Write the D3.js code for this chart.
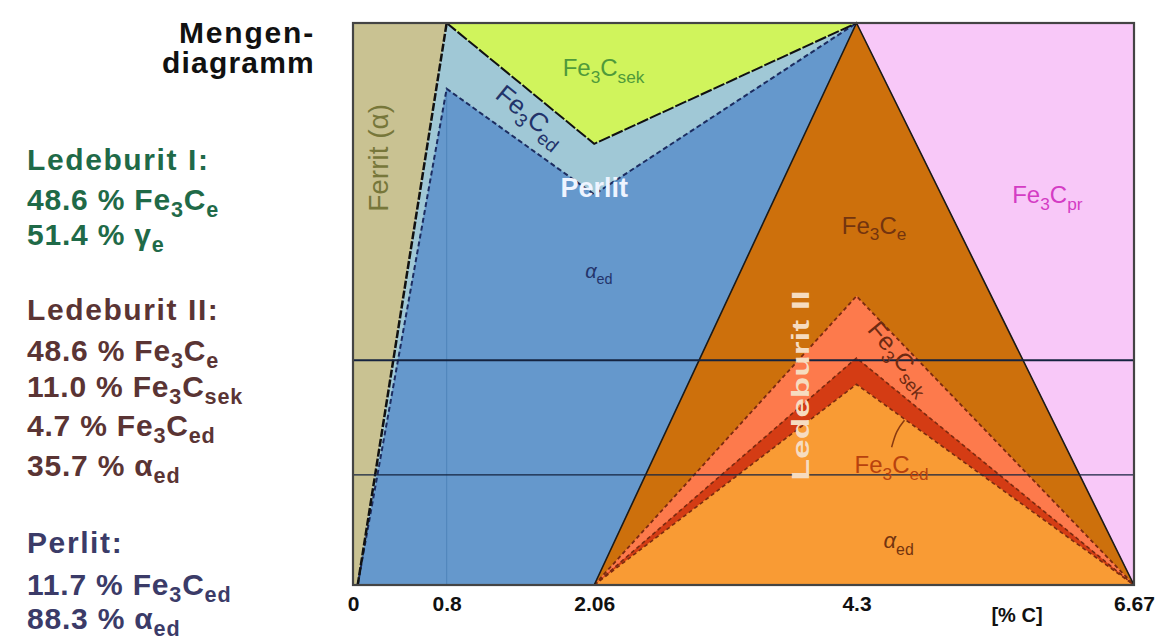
<!DOCTYPE html>
<html>
<head>
<meta charset="utf-8">
<script src="https://cdn.jsdelivr.net/npm/d3@7"></script>
<style>
  html, body { margin: 0; padding: 0; background: #ffffff; }
  svg { display: block; font-family: "Liberation Sans", Arial, sans-serif; }
</style>
</head>
<body>
<svg id="chart" width="1167" height="641"></svg>
<script>
// ---------- data (carbon content in % C, phase amount in %) ----------
const tickValues = [0, 0.8, 2.06, 4.3, 6.67];
const xDomain = [0, 6.67];
const yDomain = [0, 100];

// region outlines: [%C, amount %]
const ferritRegion   = [[0, 0], [0.04, 0], [0.8, 100], [0, 100]];
const sekRegion      = [[0.8, 100], [2.06, 78.5], [4.3, 100]];
const perlitEdRegion = [[0.04, 0], [0.8, 100], [2.06, 78.5], [4.3, 100], [2.06, 0]];
const perlitAlpha    = [[0.04, 0], [0.8, 88.3], [2.06, 69.5], [4.3, 100], [2.06, 0]];
const primRegion     = [[4.3, 100], [6.67, 100], [6.67, 0]];
const ledeburitE     = [[2.06, 0], [4.3, 100], [6.67, 0]];
const ledeburitSek   = [[2.06, 0], [4.3, 51.4], [6.67, 0]];
const ledeburitEd    = [[2.06, 0], [4.3, 40.4], [6.67, 0]];
const ledeburitAlpha = [[2.06, 0], [4.3, 35.7], [6.67, 0]];

const ferritLine = [[0.04, 0], [0.8, 100]];
const sekLine    = [[0.8, 100], [2.06, 78.5], [4.3, 100]];
const edLine     = [[0.04, 0], [0.8, 88.3], [2.06, 69.5], [4.3, 100]];
const hLines     = [40, 19.6];
const vLines     = [0.8];
const hookLine   = [[4.71, 29.3], [4.64, 27.5], [4.6, 24.5]];

const ledI  = [["48.6 % ", "Fe", "3", "C", "e"], ["51.4 % ", "γ", "", "", "e"]];
const ledII = [["48.6 % ", "Fe", "3", "C", "e"], ["11.0 % ", "Fe", "3", "C", "sek"],
               ["4.7 % ", "Fe", "3", "C", "ed"], ["35.7 % ", "α", "", "", "ed"]];
const perl  = [["11.7 % ", "Fe", "3", "C", "ed"], ["88.3 % ", "α", "", "", "ed"]];

// ---------- layout ----------
const svg = d3.select("#chart");
const L = 353, R = 1134, T = 23, B = 585;
const x = d3.scaleLinear().domain(xDomain).range([L, R]);
const y = d3.scaleLinear().domain(yDomain).range([B, T]);
const line = d3.line().x(d => x(d[0])).y(d => y(d[1]));
const poly = pts => line(pts) + "Z";

const FONT = '"Liberation Sans", Arial, sans-serif';

function poly2(pts, fill) {
  svg.append("path").attr("d", poly(pts)).attr("fill", fill).attr("stroke", fill).attr("stroke-width", 0.5);
}
poly2(primRegion, "#f8c8f8");
poly2(ferritRegion, "#c9c292");
poly2(perlitEdRegion, "#a0c8d6");
poly2(sekRegion, "#d0f45c");
poly2(perlitAlpha, "#6598cc");
poly2(ledeburitE, "#cd700c");
poly2(ledeburitSek, "#fd7a4c");
poly2(ledeburitEd, "#d43c14");
poly2(ledeburitAlpha, "#f99b34");

// vertical faint guide
svg.selectAll(".vl").data(vLines).enter().append("line")
  .attr("x1", d => x(d)).attr("x2", d => x(d)).attr("y1", y(0)).attr("y2", y(88.3))
  .attr("stroke", "#4f84bb").attr("stroke-width", 1);

// boundary lines
svg.append("path").attr("d", line(ledeburitAlpha)).attr("fill", "none")
  .attr("stroke", "#7a2a10").attr("stroke-width", 1.6).attr("stroke-dasharray", "4,3");
svg.append("path").attr("d", line(ledeburitEd)).attr("fill", "none")
  .attr("stroke", "#7a2a10").attr("stroke-width", 1.6).attr("stroke-dasharray", "4,3");
svg.append("path").attr("d", line(ledeburitSek)).attr("fill", "none")
  .attr("stroke", "#7a2a10").attr("stroke-width", 1.8).attr("stroke-dasharray", "4,3");
svg.append("path").attr("d", line(ledeburitE)).attr("fill", "none")
  .attr("stroke", "#1a1a1a").attr("stroke-width", 1.6);
svg.append("path").attr("d", line(edLine)).attr("fill", "none")
  .attr("stroke", "#1c2c60").attr("stroke-width", 2).attr("stroke-dasharray", "5,3");
svg.append("path").attr("d", line(sekLine)).attr("fill", "none")
  .attr("stroke", "#111").attr("stroke-width", 2).attr("stroke-dasharray", "12,2");
svg.append("path").attr("d", line(ferritLine)).attr("fill", "none")
  .attr("stroke", "#111").attr("stroke-width", 2.5).attr("stroke-dasharray", "8,2");

// horizontal lines
svg.selectAll(".hl").data(hLines).enter().append("line")
  .attr("x1", L).attr("x2", R).attr("y1", d => y(d)).attr("y2", d => y(d))
  .attr("stroke", "#15233f").attr("stroke-width", (d, i) => i === 0 ? 2 : 1.3);

// frame
svg.append("rect").attr("x", L).attr("y", T).attr("width", R - L).attr("height", B - T)
  .attr("fill", "none").attr("stroke", "#444").attr("stroke-width", 2.2);

// hook
svg.append("path").attr("d", d3.line().curve(d3.curveBasis).x(d => x(d[0])).y(d => y(d[1]))(hookLine))
  .attr("fill", "none").attr("stroke", "#8a3a10").attr("stroke-width", 1.5);

// ---------- text helpers ----------
function chemText(g, parts, size, opts = {}) {
  // parts: [prefix, main, sub1, main2, sub2]
  const t = g.append("text").attr("font-size", size).attr("font-family", FONT);
  if (opts.bold) t.attr("font-weight", "bold");
  if (opts.fill) t.attr("fill", opts.fill);
  if (opts.anchor) t.attr("text-anchor", opts.anchor);
  if (opts.ls) t.attr("letter-spacing", opts.ls);
  const sub = size * 0.72, sh = size * (opts.shift || 0.28);
  const [pre, m1, s1, m2, s2] = parts;
  if (pre) t.append("tspan").text(pre);
  if (m1) {
    const ts = t.append("tspan").text(m1);
    if (opts.italicMain && (m1 === "α" || m1 === "γ")) ts.attr("font-style", "italic");
  }
  let shifted = false;
  if (s1) { t.append("tspan").attr("font-size", sub).attr("dy", sh).text(s1); shifted = true; }
  if (m2) { t.append("tspan").attr("dy", shifted ? -sh : 0).text(m2); shifted = false; }
  if (s2) { t.append("tspan").attr("font-size", sub).attr("dy", shifted ? 0 : sh).text(s2); }
  return t;
}

// ---------- left text block ----------
svg.append("text").attr("x", 315).attr("y", 43).attr("text-anchor", "end")
  .attr("font-size", 30).attr("font-weight", "bold").attr("font-family", FONT)
  .attr("letter-spacing", 1.8).attr("fill", "#111").text("Mengen-");
svg.append("text").attr("x", 315).attr("y", 73).attr("text-anchor", "end")
  .attr("font-size", 30).attr("font-weight", "bold").attr("font-family", FONT)
  .attr("letter-spacing", 1.2).attr("fill", "#111").text("diagramm");

function block(title, rows, color, yTitle, yRows) {
  svg.append("text").attr("x", 27).attr("y", yTitle).attr("font-size", 30)
    .attr("font-weight", "bold").attr("font-family", FONT).attr("letter-spacing", 1.6)
    .attr("fill", color).text(title);
  rows.forEach((r, i) => {
    const g = svg.append("g").attr("transform", `translate(27,${yRows[i]})`);
    chemText(g, r, 30, { bold: true, fill: color, ls: 0.8, shift: 0.22 });
  });
}
block("Ledeburit I:", ledI, "#1f6a48", 170, [210, 245]);
block("Ledeburit II:", ledII, "#5a3434", 320, [361, 397, 436, 476]);
block("Perlit:", perl, "#3b3b68", 553, [595, 629]);

// ---------- axis ----------
const axis = d3.axisBottom(x).tickValues(tickValues).tickSize(0).tickPadding(11)
  .tickFormat(d => String(d));
const ag = svg.append("g").attr("transform", `translate(0,${B})`).call(axis);
ag.select(".domain").remove();
ag.selectAll("text").attr("font-size", 21).attr("font-weight", "bold")
  .attr("font-family", FONT).attr("fill", "#111");
svg.append("text").attr("x", 1017).attr("y", 622).attr("text-anchor", "middle")
  .attr("font-size", 20).attr("font-weight", "bold").attr("font-family", FONT)
  .attr("fill", "#111").text("[% C]");

// ---------- in-chart labels ----------
// Ferrit (α)
svg.append("text").attr("transform", `translate(${x(0.3)},${y(76)}) rotate(-90)`)
  .attr("text-anchor", "middle").attr("font-size", 28).attr("font-family", FONT)
  .attr("fill", "#77773a").text("Ferrit (α)");

// Fe3C sek top
chemText(svg.append("g").attr("transform", `translate(${x(2.14)},${y(90.6)})`),
  ["", "Fe", "3", "C", "sek"], 24, { fill: "#4f9a3a", anchor: "middle" });

// Fe3C ed (rotated along band)
chemText(svg.append("g").attr("transform", `translate(${x(1.47)},${y(82.3)}) rotate(39)`),
  ["", "Fe", "3", "C", "ed"], 26, { fill: "#22336a", anchor: "middle" });

// Perlit
svg.append("text").attr("x", x(2.06)).attr("y", y(69)).attr("text-anchor", "middle")
  .attr("font-size", 27).attr("font-weight", "bold").attr("font-family", FONT)
  .attr("fill", "#eef4ff").text("Perlit");

// alpha ed in blue
chemText(svg.append("g").attr("transform", `translate(${x(2.1)},${y(54.6)})`),
  ["", "α", "", "", "ed"], 20, { fill: "#23336a", anchor: "middle", italicMain: true });

// Fe3C e
chemText(svg.append("g").attr("transform", `translate(${x(4.45)},${y(62.5)})`),
  ["", "Fe", "3", "C", "e"], 24, { fill: "#73340f", anchor: "middle" });

// Fe3C pr
chemText(svg.append("g").attr("transform", `translate(${x(5.93)},${y(68)})`),
  ["", "Fe", "3", "C", "pr"], 24, { fill: "#d43cc4", anchor: "middle" });

// Ledeburit II (vertical)
svg.append("text").attr("transform", `translate(${x(3.95) - 7},${y(35.5)}) rotate(-90)`)
  .attr("text-anchor", "middle").attr("font-size", 24).attr("font-weight", "bold")
  .attr("font-family", FONT).attr("fill", "#f6dcc0")
  .attr("textLength", 190).attr("lengthAdjust", "spacingAndGlyphs").text("Ledeburit II");

// Fe3C sek rotated in salmon band
chemText(svg.append("g").attr("transform", `translate(${x(4.62)},${y(39.5)}) rotate(50)`),
  ["", "Fe", "3", "C", "sek"], 25, { fill: "#6e2a12", anchor: "middle" });

// Fe3C ed in light orange
chemText(svg.append("g").attr("transform", `translate(${x(4.6)},${y(19.9)})`),
  ["", "Fe", "3", "C", "ed"], 24, { fill: "#b8420e", anchor: "middle" });

// alpha ed bottom
chemText(svg.append("g").attr("transform", `translate(${x(4.66)},${y(6.5)})`),
  ["", "α", "", "", "ed"], 22, { fill: "#73340f", anchor: "middle", italicMain: true });
</script>
</body>
</html>
